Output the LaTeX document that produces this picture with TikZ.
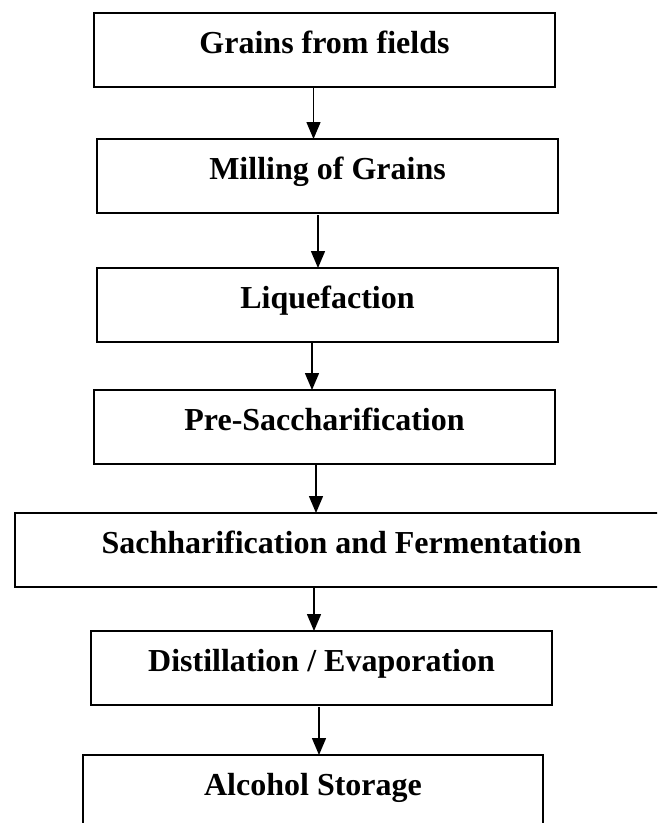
\documentclass[tikz,border=0pt]{standalone}
\usepackage{fontspec}
\setmainfont{Liberation Serif}
\usetikzlibrary{arrows.meta,positioning}

\begin{document}
\begin{tikzpicture}[
    x=1pt, y=1pt,
    stage/.style={draw=black, line width=1.7pt, minimum width=461pt, inner xsep=4pt, inner ysep=0pt, outer sep=0pt, text height=40pt, text depth=34pt, align=center, font=\fontsize{32}{38}\selectfont\bfseries},
    arrow/.style={-{Triangle[length=17pt,width=14pt]}, line width=1.5pt, draw=black}
  ]
    \useasboundingbox (0,0) rectangle (657,-823);
    \clip (0,0) rectangle (657,-823);
    \node[stage] (grains) at (324.5,-50) {Grains from fields};
    \node[stage, below=52pt of grains, xshift=3pt] (milling) {Milling of Grains};
    \node[stage, below=55pt of milling] (liquefaction) {Liquefaction};
    \node[stage, below=48pt of liquefaction, xshift=-3pt] (presacch) {Pre-Saccharification};
    \node[stage, below=49pt of presacch, xshift=17pt, minimum width=653pt] (ferment) {Sachharification and Fermentation};
    \node[stage, below=44pt of ferment, xshift=-20pt] (distill) {Distillation / Evaporation};
    \node[stage, below=50pt of distill, xshift=-8.5pt, minimum width=460pt] (storage) {Alcohol Storage};
    \draw[arrow] ([xshift=-11pt]grains.south) -- ([xshift=-11pt]grains.south |- milling.north);
    \draw[arrow, shorten <=2pt] ([xshift=-9.5pt]milling.south) -- ([xshift=-9.5pt]milling.south |- liquefaction.north);
    \draw[arrow] ([xshift=-15.5pt]liquefaction.south) -- ([xshift=-15.5pt]liquefaction.south |- presacch.north);
    \draw[arrow] ([xshift=-8.5pt]presacch.south) -- ([xshift=-8.5pt]presacch.south |- ferment.north);
    \draw[arrow] ([xshift=-27.5pt]ferment.south) -- ([xshift=-27.5pt]ferment.south |- distill.north);
    \draw[arrow, shorten <=2pt] ([xshift=-2.5pt]distill.south) -- ([xshift=-2.5pt]distill.south |- storage.north);
  \end{tikzpicture}
\end{document}
